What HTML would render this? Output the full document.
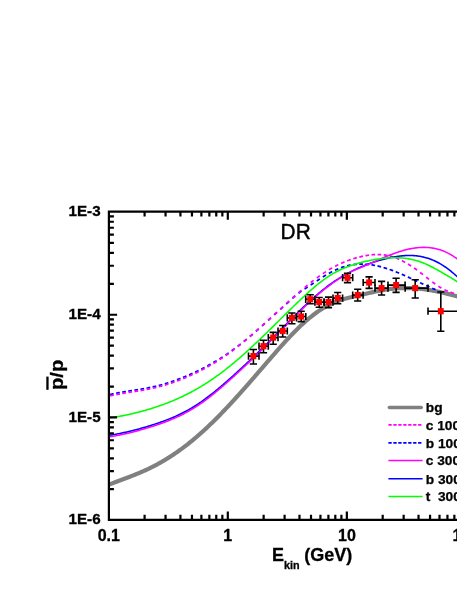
<!DOCTYPE html>
<html><head><meta charset="utf-8"><title>DR</title>
<style>html,body{margin:0;padding:0;background:#fff;}body{width:457px;height:591px;overflow:hidden}</style>
</head><body>
<svg width="457" height="591" viewBox="0 0 457 591" style="display:block;will-change:transform;opacity:0.999">
<rect width="457" height="591" fill="#fff"/>
<path d="M108.9,484.63 L109.9,484.24 L110.9,483.86 L111.9,483.47 L112.9,483.09 L113.9,482.71 L114.9,482.33 L115.9,481.96 L116.9,481.58 L117.9,481.21 L118.9,480.83 L119.9,480.46 L120.9,480.08 L121.9,479.71 L122.9,479.33 L123.9,478.96 L124.9,478.58 L125.9,478.21 L126.9,477.83 L127.9,477.45 L128.9,477.06 L129.9,476.68 L130.9,476.29 L131.9,475.90 L132.9,475.51 L133.9,475.11 L134.9,474.71 L135.9,474.31 L136.9,473.90 L137.9,473.49 L138.9,473.07 L139.9,472.65 L140.9,472.22 L141.9,471.79 L142.9,471.36 L143.9,470.91 L144.9,470.46 L145.9,470.01 L146.9,469.55 L147.9,469.08 L148.9,468.61 L149.9,468.12 L150.9,467.63 L151.9,467.14 L152.9,466.63 L153.9,466.12 L154.9,465.60 L155.9,465.07 L156.9,464.54 L157.9,463.99 L158.9,463.44 L159.9,462.89 L160.9,462.32 L161.9,461.75 L162.9,461.16 L163.9,460.58 L164.9,459.98 L165.9,459.37 L166.9,458.76 L167.9,458.14 L168.9,457.51 L169.9,456.88 L170.9,456.23 L171.9,455.58 L172.9,454.92 L173.9,454.25 L174.9,453.58 L175.9,452.89 L176.9,452.20 L177.9,451.50 L178.9,450.79 L179.9,450.08 L180.9,449.35 L181.9,448.62 L182.9,447.88 L183.9,447.13 L184.9,446.38 L185.9,445.61 L186.9,444.84 L187.9,444.06 L188.9,443.27 L189.9,442.47 L190.9,441.67 L191.9,440.85 L192.9,440.03 L193.9,439.20 L194.9,438.36 L195.9,437.51 L196.9,436.66 L197.9,435.79 L198.9,434.92 L199.9,434.04 L200.9,433.15 L201.9,432.25 L202.9,431.35 L203.9,430.44 L204.9,429.52 L205.9,428.60 L206.9,427.66 L207.9,426.72 L208.9,425.77 L209.9,424.82 L210.9,423.86 L211.9,422.89 L212.9,421.92 L213.9,420.93 L214.9,419.95 L215.9,418.95 L216.9,417.95 L217.9,416.95 L218.9,415.93 L219.9,414.91 L220.9,413.89 L221.9,412.86 L222.9,411.82 L223.9,410.78 L224.9,409.74 L225.9,408.68 L226.9,407.63 L227.9,406.56 L228.9,405.50 L229.9,404.42 L230.9,403.35 L231.9,402.26 L232.9,401.18 L233.9,400.08 L234.9,398.99 L235.9,397.89 L236.9,396.78 L237.9,395.68 L238.9,394.56 L239.9,393.45 L240.9,392.33 L241.9,391.21 L242.9,390.08 L243.9,388.95 L244.9,387.82 L245.9,386.68 L246.9,385.54 L247.9,384.40 L248.9,383.26 L249.9,382.12 L250.9,380.97 L251.9,379.82 L252.9,378.67 L253.9,377.52 L254.9,376.37 L255.9,375.21 L256.9,374.06 L257.9,372.90 L258.9,371.74 L259.9,370.59 L260.9,369.43 L261.9,368.27 L262.9,367.11 L263.9,365.95 L264.9,364.79 L265.9,363.64 L266.9,362.48 L267.9,361.32 L268.9,360.17 L269.9,359.01 L270.9,357.86 L271.9,356.70 L272.9,355.55 L273.9,354.41 L274.9,353.26 L275.9,352.12 L276.9,350.98 L277.9,349.84 L278.9,348.71 L279.9,347.58 L280.9,346.46 L281.9,345.34 L282.9,344.23 L283.9,343.13 L284.9,342.03 L285.9,340.93 L286.9,339.85 L287.9,338.77 L288.9,337.70 L289.9,336.64 L290.9,335.58 L291.9,334.54 L292.9,333.50 L293.9,332.48 L294.9,331.46 L295.9,330.45 L296.9,329.46 L297.9,328.48 L298.9,327.50 L299.9,326.54 L300.9,325.59 L301.9,324.66 L302.9,323.74 L303.9,322.83 L304.9,321.93 L305.9,321.04 L306.9,320.17 L307.9,319.32 L308.9,318.48 L309.9,317.65 L310.9,316.83 L311.9,316.03 L312.9,315.25 L313.9,314.48 L314.9,313.73 L315.9,312.99 L316.9,312.27 L317.9,311.56 L318.9,310.87 L319.9,310.19 L320.9,309.54 L321.9,308.89 L322.9,308.27 L323.9,307.66 L324.9,307.07 L325.9,306.50 L326.9,305.95 L327.9,305.41 L328.9,304.89 L329.9,304.40 L330.9,303.92 L331.9,303.45 L332.9,303.01 L333.9,302.58 L334.9,302.17 L335.9,301.77 L336.9,301.39 L337.9,301.02 L338.9,300.67 L339.9,300.33 L340.9,300.00 L341.9,299.68 L342.9,299.37 L343.9,299.07 L344.9,298.78 L345.9,298.50 L346.9,298.23 L347.9,297.97 L348.9,297.71 L349.9,297.46 L350.9,297.21 L351.9,296.97 L352.9,296.74 L353.9,296.50 L354.9,296.27 L355.9,296.04 L356.9,295.81 L357.9,295.58 L358.9,295.36 L359.9,295.13 L360.9,294.90 L361.9,294.67 L362.9,294.43 L363.9,294.20 L364.9,293.97 L365.9,293.74 L366.9,293.50 L367.9,293.27 L368.9,293.04 L369.9,292.81 L370.9,292.58 L371.9,292.36 L372.9,292.14 L373.9,291.92 L374.9,291.70 L375.9,291.49 L376.9,291.28 L377.9,291.07 L378.9,290.87 L379.9,290.67 L380.9,290.48 L381.9,290.29 L382.9,290.11 L383.9,289.94 L384.9,289.77 L385.9,289.61 L386.9,289.46 L387.9,289.31 L388.9,289.17 L389.9,289.04 L390.9,288.91 L391.9,288.80 L392.9,288.69 L393.9,288.59 L394.9,288.50 L395.9,288.42 L396.9,288.35 L397.9,288.28 L398.9,288.22 L399.9,288.17 L400.9,288.13 L401.9,288.10 L402.9,288.07 L403.9,288.05 L404.9,288.04 L405.9,288.04 L406.9,288.04 L407.9,288.06 L408.9,288.08 L409.9,288.10 L410.9,288.14 L411.9,288.18 L412.9,288.23 L413.9,288.28 L414.9,288.35 L415.9,288.42 L416.9,288.50 L417.9,288.58 L418.9,288.67 L419.9,288.77 L420.9,288.88 L421.9,288.99 L422.9,289.11 L423.9,289.24 L424.9,289.37 L425.9,289.51 L426.9,289.66 L427.9,289.81 L428.9,289.97 L429.9,290.13 L430.9,290.30 L431.9,290.47 L432.9,290.65 L433.9,290.84 L434.9,291.03 L435.9,291.22 L436.9,291.42 L437.9,291.63 L438.9,291.83 L439.9,292.05 L440.9,292.27 L441.9,292.49 L442.9,292.71 L443.9,292.94 L444.9,293.18 L445.9,293.41 L446.9,293.65 L447.9,293.90 L448.9,294.14 L449.9,294.39 L450.9,294.65 L451.9,294.91 L452.9,295.17 L453.9,295.44 L454.9,295.71 L455.9,295.98 L456.9,296.26 L457.9,296.54 L458.9,296.82 L459.9,297.11 L460.9,297.40" fill="none" stroke="#808080" stroke-width="4.2" stroke-linejoin="round"/>
<path d="M110.10,394.56 111.00,394.35 111.90,394.14 112.80,393.94 113.70,393.74M116.18,393.23 117.09,393.05 117.99,392.88 118.90,392.71 119.81,392.54M122.25,392.11 123.17,391.95 124.08,391.80 124.99,391.65 125.90,391.50M128.33,391.12 129.25,390.98 130.16,390.83 131.07,390.69 131.99,390.55M134.41,390.18 135.32,390.04 136.24,389.90 137.15,389.76 138.06,389.61M140.48,389.22 141.40,389.07 142.31,388.92 143.22,388.76 144.13,388.60M146.56,388.16 147.47,387.99 148.38,387.81 149.29,387.63 150.20,387.44M152.64,386.92 153.54,386.71 154.44,386.51 155.34,386.29 156.25,386.08M158.72,385.46 159.61,385.22 160.50,384.98 161.40,384.74 162.29,384.49M164.79,383.77 165.68,383.51 166.56,383.24 167.45,382.97 168.34,382.69M170.87,381.87 171.75,381.57 172.62,381.27 173.50,380.97 174.37,380.66M176.95,379.74 177.81,379.41 178.68,379.09 179.55,378.76 180.41,378.42M183.02,377.39 183.88,377.04 184.74,376.69 185.59,376.34 186.45,375.98M189.10,374.86 189.95,374.49 190.80,374.12 191.64,373.74 192.49,373.36M195.18,372.12 196.01,371.73 196.85,371.33 197.69,370.93 198.52,370.52M201.25,369.17 202.08,368.75 202.90,368.33 203.72,367.90 204.55,367.47M207.33,365.97 208.14,365.53 208.95,365.08 209.76,364.63 210.57,364.17M213.41,362.54 214.21,362.07 215.00,361.60 215.80,361.13 216.60,360.65M219.49,358.88 220.27,358.39 221.05,357.90 221.84,357.40 222.62,356.90M225.56,354.97 226.33,354.45 227.10,353.94 227.86,353.41 228.63,352.89M231.64,350.78 232.39,350.24 233.14,349.70 233.89,349.15 234.64,348.60M237.72,346.29 238.45,345.73 239.18,345.16 239.92,344.60 240.65,344.02M243.79,341.52 244.51,340.94 245.23,340.35 245.95,339.77 246.66,339.17M249.87,336.50 250.58,335.91 251.28,335.31 251.99,334.71 252.69,334.10M255.95,331.29 256.64,330.68 257.34,330.07 258.03,329.46 258.73,328.85M262.02,325.92 262.71,325.30 263.40,324.68 264.09,324.06 264.78,323.44M268.10,320.45 268.79,319.83 269.47,319.21 270.16,318.58 270.84,317.96M274.18,314.94 274.86,314.32 275.55,313.70 276.24,313.08 276.92,312.45M280.26,309.44 280.94,308.83 281.63,308.21 282.32,307.59 283.01,306.97M286.33,303.98 287.02,303.36 287.70,302.74 288.38,302.11 289.07,301.48M292.41,298.37 293.09,297.74 293.78,297.11 294.46,296.50 295.15,295.90M298.49,293.23 299.24,292.68 300.00,292.15 300.75,291.64 301.51,291.14M304.56,289.14 305.34,288.63 306.11,288.13 306.88,287.61 307.66,287.10M310.64,285.08 311.40,284.55 312.17,284.03 312.93,283.51 313.69,282.98M316.72,280.93 317.49,280.42 318.26,279.90 319.03,279.40 319.80,278.89M322.79,276.98 323.58,276.49 324.37,276.01 325.16,275.53 325.95,275.06M328.87,273.38 329.68,272.93 330.50,272.49 331.31,272.06 332.12,271.64M334.95,270.25 335.79,269.86 336.63,269.48 337.48,269.11 338.32,268.76M341.03,267.70 341.90,267.38 342.77,267.08 343.65,266.80 344.52,266.53M347.10,265.82 348.00,265.60 348.91,265.39 349.81,265.21 350.71,265.04M353.18,264.64 354.10,264.52 355.02,264.42 355.94,264.33 356.85,264.26M359.26,264.13 360.18,264.11 361.11,264.10 362.03,264.10 362.96,264.11M365.33,264.21 366.26,264.28 367.18,264.35 368.10,264.44 369.02,264.53M371.41,264.84 372.32,264.98 373.24,265.13 374.15,265.29 375.07,265.46M377.49,265.97 378.39,266.17 379.29,266.39 380.19,266.61 381.09,266.84M383.56,267.53 384.45,267.79 385.34,268.05 386.22,268.33 387.11,268.61M389.64,269.47 390.51,269.78 391.38,270.09 392.25,270.41 393.12,270.74M395.72,271.76 396.58,272.10 397.43,272.45 398.29,272.81 399.15,273.17M401.80,274.30 402.64,274.67 403.49,275.05 404.34,275.42 405.18,275.80M407.87,277.02 408.71,277.41 409.55,277.80 410.39,278.19 411.23,278.58M413.95,279.84 414.79,280.24 415.63,280.63 416.46,281.02 417.30,281.41M420.03,282.69 420.86,283.08 421.70,283.48 422.54,283.87 423.38,284.26M426.10,285.52 426.95,285.90 427.79,286.28 428.63,286.66 429.47,287.03M432.18,288.21 433.03,288.58 433.89,288.93 434.74,289.29 435.59,289.63" fill="none" stroke="#0000ff" stroke-width="1.75" stroke-linejoin="round"/>
<path d="M110.20,395.88 111.10,395.67 112.00,395.46 112.90,395.26 113.80,395.07M116.28,394.56 117.19,394.38 118.09,394.20 119.00,394.03 119.91,393.86M122.35,393.43 123.27,393.28 124.18,393.13 125.09,392.97 126.00,392.83M128.43,392.44 129.34,392.30 130.26,392.16 131.17,392.01 132.09,391.87M134.51,391.50 135.42,391.36 136.34,391.21 137.25,391.07 138.16,390.93M140.59,390.53 141.50,390.38 142.41,390.23 143.32,390.07 144.23,389.91M146.66,389.46 147.57,389.29 148.48,389.11 149.39,388.93 150.29,388.74M152.74,388.22 153.64,388.01 154.54,387.80 155.44,387.59 156.35,387.37M158.82,386.75 159.71,386.51 160.60,386.27 161.50,386.03 162.39,385.78M164.89,385.06 165.78,384.79 166.66,384.52 167.55,384.25 168.43,383.97M170.97,383.14 171.85,382.85 172.72,382.55 173.60,382.24 174.47,381.94M177.05,381.00 177.91,380.68 178.78,380.35 179.64,380.02 180.51,379.68M183.12,378.64 183.98,378.29 184.83,377.94 185.69,377.58 186.54,377.21M189.20,376.05 190.04,375.68 190.89,375.29 191.73,374.91 192.57,374.52M195.28,373.24 196.11,372.84 196.94,372.43 197.77,372.02 198.60,371.60M201.36,370.20 202.17,369.77 202.99,369.34 203.81,368.90 204.63,368.46M207.43,366.92 208.24,366.47 209.04,366.01 209.85,365.55 210.65,365.08M213.51,363.39 214.30,362.91 215.09,362.43 215.88,361.95 216.67,361.45M219.59,359.60 220.36,359.10 221.14,358.59 221.91,358.08 222.68,357.57M225.66,355.54 226.42,355.02 227.18,354.49 227.94,353.95 228.70,353.41M231.74,351.20 232.48,350.65 233.22,350.10 233.96,349.54 234.71,348.98M237.82,346.57 238.54,346.00 239.27,345.42 239.99,344.84 240.71,344.26M243.89,341.66 244.60,341.07 245.31,340.48 246.02,339.88 246.74,339.28M249.97,336.52 250.67,335.92 251.37,335.31 252.07,334.70 252.77,334.09M256.05,331.20 256.74,330.58 257.43,329.97 258.12,329.35 258.81,328.73M262.12,325.74 262.81,325.12 263.49,324.50 264.18,323.88 264.86,323.25M268.20,320.20 268.88,319.57 269.57,318.95 270.25,318.32 270.93,317.70M274.28,314.62 274.96,313.99 275.64,313.36 276.32,312.74 277.00,312.11M280.36,309.04 281.04,308.41 281.72,307.79 282.40,307.16 283.09,306.54M286.43,303.50 287.12,302.88 287.81,302.26 288.49,301.64 289.18,301.02M292.51,298.05 293.20,297.44 293.90,296.82 294.59,296.21 295.28,295.60M298.59,292.72 299.29,292.12 299.99,291.51 300.69,290.91 301.39,290.32M304.66,287.56 305.38,286.97 306.09,286.38 306.80,285.79 307.52,285.21M310.74,282.62 311.47,282.05 312.20,281.48 312.93,280.91 313.65,280.35M316.82,277.97 317.57,277.42 318.31,276.87 319.06,276.33 319.81,275.80M322.89,273.66 323.67,273.14 324.44,272.63 325.21,272.13 325.98,271.63M328.97,269.77 329.77,269.29 330.56,268.82 331.36,268.36 332.16,267.91M335.05,266.34 335.87,265.91 336.70,265.49 337.52,265.08 338.34,264.68M341.13,263.37 341.97,263.00 342.82,262.63 343.67,262.27 344.51,261.92M347.20,260.85 348.07,260.53 348.94,260.21 349.81,259.90 350.67,259.60M353.28,258.75 354.17,258.47 355.05,258.21 355.94,257.95 356.82,257.70M359.36,257.03 360.26,256.81 361.16,256.60 362.05,256.39 362.95,256.20M365.43,255.71 366.35,255.54 367.26,255.39 368.17,255.25 369.08,255.12M371.51,254.83 372.43,254.75 373.35,254.67 374.28,254.61 375.20,254.57M377.59,254.52 378.51,254.53 379.44,254.55 380.36,254.59 381.29,254.65M383.66,254.87 384.58,254.98 385.50,255.12 386.41,255.27 387.33,255.44M389.74,255.97 390.63,256.21 391.53,256.46 392.42,256.73 393.31,257.02M395.82,257.91 396.68,258.25 397.53,258.61 398.39,258.98 399.25,259.36M401.90,260.63 402.72,261.05 403.54,261.48 404.36,261.92 405.18,262.38M407.97,264.01 408.76,264.50 409.54,264.99 410.33,265.49 411.12,265.99M414.05,267.97 414.81,268.50 415.56,269.03 416.32,269.57 417.07,270.12M420.13,272.40 420.86,272.96 421.59,273.52 422.33,274.09 423.06,274.66M426.20,277.14 426.93,277.71 427.66,278.29 428.38,278.86 429.11,279.42M432.28,281.86 433.02,282.42 433.77,282.97 434.51,283.51 435.25,284.05M438.36,286.18 439.14,286.69 439.92,287.18 440.70,287.66 441.48,288.12M444.44,289.71 445.27,290.12 446.11,290.50 446.95,290.86 447.79,291.20M450.51,292.19 451.39,292.48 452.27,292.76 453.16,293.02 454.04,293.28" fill="none" stroke="#ff00ff" stroke-width="1.75" stroke-linejoin="round"/>
<path d="M108.9,435.42 L109.9,435.26 L110.9,435.10 L111.9,434.93 L112.9,434.76 L113.9,434.59 L114.9,434.41 L115.9,434.22 L116.9,434.03 L117.9,433.84 L118.9,433.65 L119.9,433.45 L120.9,433.24 L121.9,433.03 L122.9,432.82 L123.9,432.60 L124.9,432.38 L125.9,432.16 L126.9,431.93 L127.9,431.70 L128.9,431.47 L129.9,431.23 L130.9,430.98 L131.9,430.74 L132.9,430.49 L133.9,430.23 L134.9,429.98 L135.9,429.72 L136.9,429.45 L137.9,429.18 L138.9,428.91 L139.9,428.64 L140.9,428.36 L141.9,428.08 L142.9,427.80 L143.9,427.51 L144.9,427.22 L145.9,426.92 L146.9,426.63 L147.9,426.32 L148.9,426.02 L149.9,425.71 L150.9,425.40 L151.9,425.09 L152.9,424.78 L153.9,424.46 L154.9,424.13 L155.9,423.80 L156.9,423.47 L157.9,423.14 L158.9,422.80 L159.9,422.45 L160.9,422.10 L161.9,421.75 L162.9,421.39 L163.9,421.02 L164.9,420.65 L165.9,420.27 L166.9,419.89 L167.9,419.50 L168.9,419.11 L169.9,418.70 L170.9,418.30 L171.9,417.88 L172.9,417.46 L173.9,417.03 L174.9,416.59 L175.9,416.15 L176.9,415.70 L177.9,415.24 L178.9,414.77 L179.9,414.29 L180.9,413.81 L181.9,413.31 L182.9,412.81 L183.9,412.30 L184.9,411.78 L185.9,411.25 L186.9,410.71 L187.9,410.16 L188.9,409.60 L189.9,409.03 L190.9,408.45 L191.9,407.86 L192.9,407.26 L193.9,406.65 L194.9,406.02 L195.9,405.39 L196.9,404.74 L197.9,404.09 L198.9,403.42 L199.9,402.74 L200.9,402.06 L201.9,401.36 L202.9,400.65 L203.9,399.94 L204.9,399.21 L205.9,398.48 L206.9,397.73 L207.9,396.98 L208.9,396.22 L209.9,395.45 L210.9,394.67 L211.9,393.89 L212.9,393.09 L213.9,392.29 L214.9,391.49 L215.9,390.67 L216.9,389.85 L217.9,389.02 L218.9,388.19 L219.9,387.35 L220.9,386.50 L221.9,385.65 L222.9,384.79 L223.9,383.93 L224.9,383.06 L225.9,382.19 L226.9,381.31 L227.9,380.43 L228.9,379.55 L229.9,378.66 L230.9,377.77 L231.9,376.87 L232.9,375.97 L233.9,375.07 L234.9,374.16 L235.9,373.25 L236.9,372.34 L237.9,371.43 L238.9,370.51 L239.9,369.59 L240.9,368.67 L241.9,367.74 L242.9,366.81 L243.9,365.88 L244.9,364.95 L245.9,364.02 L246.9,363.08 L247.9,362.14 L248.9,361.19 L249.9,360.25 L250.9,359.30 L251.9,358.34 L252.9,357.39 L253.9,356.43 L254.9,355.47 L255.9,354.51 L256.9,353.54 L257.9,352.58 L258.9,351.60 L259.9,350.63 L260.9,349.65 L261.9,348.68 L262.9,347.69 L263.9,346.71 L264.9,345.72 L265.9,344.73 L266.9,343.74 L267.9,342.74 L268.9,341.74 L269.9,340.74 L270.9,339.74 L271.9,338.73 L272.9,337.72 L273.9,336.71 L274.9,335.70 L275.9,334.68 L276.9,333.66 L277.9,332.65 L278.9,331.63 L279.9,330.61 L280.9,329.59 L281.9,328.57 L282.9,327.56 L283.9,326.54 L284.9,325.52 L285.9,324.50 L286.9,323.49 L287.9,322.48 L288.9,321.46 L289.9,320.45 L290.9,319.45 L291.9,318.44 L292.9,317.44 L293.9,316.44 L294.9,315.44 L295.9,314.45 L296.9,313.46 L297.9,312.48 L298.9,311.50 L299.9,310.52 L300.9,309.55 L301.9,308.58 L302.9,307.62 L303.9,306.67 L304.9,305.72 L305.9,304.77 L306.9,303.84 L307.9,302.91 L308.9,301.98 L309.9,301.06 L310.9,300.15 L311.9,299.25 L312.9,298.35 L313.9,297.47 L314.9,296.59 L315.9,295.71 L316.9,294.85 L317.9,294.00 L318.9,293.15 L319.9,292.31 L320.9,291.49 L321.9,290.67 L322.9,289.86 L323.9,289.06 L324.9,288.28 L325.9,287.50 L326.9,286.73 L327.9,285.98 L328.9,285.23 L329.9,284.50 L330.9,283.78 L331.9,283.07 L332.9,282.37 L333.9,281.68 L334.9,281.01 L335.9,280.34 L336.9,279.69 L337.9,279.05 L338.9,278.42 L339.9,277.79 L340.9,277.18 L341.9,276.58 L342.9,275.99 L343.9,275.41 L344.9,274.84 L345.9,274.28 L346.9,273.73 L347.9,273.19 L348.9,272.65 L349.9,272.13 L350.9,271.62 L351.9,271.11 L352.9,270.62 L353.9,270.13 L354.9,269.65 L355.9,269.18 L356.9,268.72 L357.9,268.27 L358.9,267.82 L359.9,267.38 L360.9,266.96 L361.9,266.53 L362.9,266.12 L363.9,265.72 L364.9,265.32 L365.9,264.93 L366.9,264.55 L367.9,264.17 L368.9,263.80 L369.9,263.44 L370.9,263.09 L371.9,262.75 L372.9,262.41 L373.9,262.08 L374.9,261.76 L375.9,261.44 L376.9,261.14 L377.9,260.84 L378.9,260.55 L379.9,260.26 L380.9,259.98 L381.9,259.71 L382.9,259.45 L383.9,259.19 L384.9,258.94 L385.9,258.70 L386.9,258.47 L387.9,258.24 L388.9,258.02 L389.9,257.80 L390.9,257.59 L391.9,257.40 L392.9,257.20 L393.9,257.02 L394.9,256.84 L395.9,256.68 L396.9,256.52 L397.9,256.37 L398.9,256.23 L399.9,256.10 L400.9,255.99 L401.9,255.88 L402.9,255.79 L403.9,255.70 L404.9,255.63 L405.9,255.58 L406.9,255.53 L407.9,255.50 L408.9,255.48 L409.9,255.48 L410.9,255.49 L411.9,255.52 L412.9,255.56 L413.9,255.62 L414.9,255.69 L415.9,255.78 L416.9,255.88 L417.9,256.01 L418.9,256.15 L419.9,256.31 L420.9,256.49 L421.9,256.68 L422.9,256.90 L423.9,257.13 L424.9,257.39 L425.9,257.66 L426.9,257.95 L427.9,258.26 L428.9,258.59 L429.9,258.94 L430.9,259.32 L431.9,259.71 L432.9,260.12 L433.9,260.55 L434.9,261.01 L435.9,261.48 L436.9,261.98 L437.9,262.50 L438.9,263.04 L439.9,263.60 L440.9,264.18 L441.9,264.79 L442.9,265.42 L443.9,266.07 L444.9,266.74 L445.9,267.44 L446.9,268.15 L447.9,268.89 L448.9,269.65 L449.9,270.43 L450.9,271.23 L451.9,272.05 L452.9,272.88 L453.9,273.74 L454.9,274.60 L455.9,275.48 L456.9,276.38 L457.9,277.28 L458.9,278.20 L459.9,279.14 L460.9,280.08" fill="none" stroke="#0000ff" stroke-width="1.55" stroke-linejoin="round"/>
<path d="M108.9,436.92 L109.9,436.76 L110.9,436.60 L111.9,436.43 L112.9,436.26 L113.9,436.08 L114.9,435.90 L115.9,435.71 L116.9,435.53 L117.9,435.33 L118.9,435.14 L119.9,434.93 L120.9,434.73 L121.9,434.52 L122.9,434.31 L123.9,434.09 L124.9,433.87 L125.9,433.64 L126.9,433.41 L127.9,433.18 L128.9,432.94 L129.9,432.70 L130.9,432.46 L131.9,432.21 L132.9,431.96 L133.9,431.71 L134.9,431.45 L135.9,431.19 L136.9,430.92 L137.9,430.65 L138.9,430.38 L139.9,430.10 L140.9,429.83 L141.9,429.54 L142.9,429.26 L143.9,428.97 L144.9,428.68 L145.9,428.38 L146.9,428.08 L147.9,427.78 L148.9,427.48 L149.9,427.17 L150.9,426.86 L151.9,426.54 L152.9,426.23 L153.9,425.91 L154.9,425.58 L155.9,425.25 L156.9,424.92 L157.9,424.58 L158.9,424.24 L159.9,423.90 L160.9,423.54 L161.9,423.19 L162.9,422.83 L163.9,422.46 L164.9,422.09 L165.9,421.71 L166.9,421.33 L167.9,420.94 L168.9,420.54 L169.9,420.14 L170.9,419.73 L171.9,419.31 L172.9,418.89 L173.9,418.46 L174.9,418.02 L175.9,417.57 L176.9,417.12 L177.9,416.66 L178.9,416.19 L179.9,415.71 L180.9,415.23 L181.9,414.73 L182.9,414.23 L183.9,413.72 L184.9,413.19 L185.9,412.66 L186.9,412.12 L187.9,411.57 L188.9,411.01 L189.9,410.44 L190.9,409.86 L191.9,409.27 L192.9,408.67 L193.9,408.05 L194.9,407.43 L195.9,406.79 L196.9,406.14 L197.9,405.49 L198.9,404.82 L199.9,404.14 L200.9,403.45 L201.9,402.75 L202.9,402.03 L203.9,401.31 L204.9,400.58 L205.9,399.84 L206.9,399.10 L207.9,398.34 L208.9,397.57 L209.9,396.80 L210.9,396.02 L211.9,395.23 L212.9,394.43 L213.9,393.62 L214.9,392.81 L215.9,391.99 L216.9,391.17 L217.9,390.33 L218.9,389.49 L219.9,388.65 L220.9,387.80 L221.9,386.94 L222.9,386.08 L223.9,385.21 L224.9,384.34 L225.9,383.46 L226.9,382.58 L227.9,381.69 L228.9,380.80 L229.9,379.91 L230.9,379.01 L231.9,378.11 L232.9,377.20 L233.9,376.30 L234.9,375.38 L235.9,374.47 L236.9,373.55 L237.9,372.64 L238.9,371.71 L239.9,370.79 L240.9,369.86 L241.9,368.93 L242.9,368.00 L243.9,367.06 L244.9,366.13 L245.9,365.19 L246.9,364.24 L247.9,363.30 L248.9,362.35 L249.9,361.40 L250.9,360.44 L251.9,359.49 L252.9,358.53 L253.9,357.56 L254.9,356.60 L255.9,355.63 L256.9,354.66 L257.9,353.68 L258.9,352.71 L259.9,351.73 L260.9,350.74 L261.9,349.76 L262.9,348.77 L263.9,347.78 L264.9,346.78 L265.9,345.78 L266.9,344.78 L267.9,343.78 L268.9,342.77 L269.9,341.76 L270.9,340.75 L271.9,339.73 L272.9,338.72 L273.9,337.70 L274.9,336.68 L275.9,335.65 L276.9,334.63 L277.9,333.60 L278.9,332.58 L279.9,331.55 L280.9,330.53 L281.9,329.50 L282.9,328.47 L283.9,327.45 L284.9,326.42 L285.9,325.40 L286.9,324.37 L287.9,323.35 L288.9,322.33 L289.9,321.31 L290.9,320.30 L291.9,319.29 L292.9,318.28 L293.9,317.27 L294.9,316.26 L295.9,315.26 L296.9,314.27 L297.9,313.27 L298.9,312.29 L299.9,311.30 L300.9,310.32 L301.9,309.35 L302.9,308.38 L303.9,307.42 L304.9,306.46 L305.9,305.51 L306.9,304.56 L307.9,303.63 L308.9,302.69 L309.9,301.77 L310.9,300.85 L311.9,299.94 L312.9,299.04 L313.9,298.15 L314.9,297.26 L315.9,296.38 L316.9,295.51 L317.9,294.65 L318.9,293.80 L319.9,292.96 L320.9,292.12 L321.9,291.30 L322.9,290.49 L323.9,289.68 L324.9,288.89 L325.9,288.11 L326.9,287.34 L327.9,286.57 L328.9,285.82 L329.9,285.09 L330.9,284.36 L331.9,283.64 L332.9,282.94 L333.9,282.24 L334.9,281.56 L335.9,280.89 L336.9,280.22 L337.9,279.56 L338.9,278.91 L339.9,278.27 L340.9,277.63 L341.9,277.00 L342.9,276.37 L343.9,275.75 L344.9,275.14 L345.9,274.54 L346.9,273.96 L347.9,273.39 L348.9,272.85 L349.9,272.32 L350.9,271.81 L351.9,271.33 L352.9,270.86 L353.9,270.42 L354.9,269.98 L355.9,269.56 L356.9,269.14 L357.9,268.73 L358.9,268.32 L359.9,267.92 L360.9,267.51 L361.9,267.09 L362.9,266.68 L363.9,266.25 L364.9,265.83 L365.9,265.40 L366.9,264.97 L367.9,264.53 L368.9,264.09 L369.9,263.65 L370.9,263.20 L371.9,262.76 L372.9,262.31 L373.9,261.87 L374.9,261.42 L375.9,260.98 L376.9,260.53 L377.9,260.09 L378.9,259.65 L379.9,259.22 L380.9,258.78 L381.9,258.35 L382.9,257.93 L383.9,257.50 L384.9,257.09 L385.9,256.67 L386.9,256.26 L387.9,255.86 L388.9,255.46 L389.9,255.07 L390.9,254.68 L391.9,254.30 L392.9,253.92 L393.9,253.55 L394.9,253.19 L395.9,252.84 L396.9,252.49 L397.9,252.15 L398.9,251.83 L399.9,251.51 L400.9,251.19 L401.9,250.89 L402.9,250.60 L403.9,250.32 L404.9,250.05 L405.9,249.79 L406.9,249.55 L407.9,249.31 L408.9,249.08 L409.9,248.87 L410.9,248.67 L411.9,248.49 L412.9,248.31 L413.9,248.15 L414.9,248.01 L415.9,247.87 L416.9,247.76 L417.9,247.65 L418.9,247.56 L419.9,247.49 L420.9,247.44 L421.9,247.40 L422.9,247.37 L423.9,247.37 L424.9,247.38 L425.9,247.41 L426.9,247.45 L427.9,247.52 L428.9,247.60 L429.9,247.70 L430.9,247.82 L431.9,247.96 L432.9,248.11 L433.9,248.29 L434.9,248.49 L435.9,248.71 L436.9,248.94 L437.9,249.20 L438.9,249.49 L439.9,249.79 L440.9,250.11 L441.9,250.46 L442.9,250.83 L443.9,251.23 L444.9,251.65 L445.9,252.10 L446.9,252.57 L447.9,253.07 L448.9,253.59 L449.9,254.14 L450.9,254.71 L451.9,255.31 L452.9,255.94 L453.9,256.59 L454.9,257.27 L455.9,257.99 L456.9,258.73 L457.9,259.49 L458.9,260.29 L459.9,261.11 L460.9,261.97" fill="none" stroke="#ff00ff" stroke-width="1.55" stroke-linejoin="round"/>
<path d="M108.9,417.77 L109.9,417.66 L110.9,417.54 L111.9,417.42 L112.9,417.29 L113.9,417.15 L114.9,417.01 L115.9,416.87 L116.9,416.71 L117.9,416.56 L118.9,416.39 L119.9,416.23 L120.9,416.05 L121.9,415.87 L122.9,415.69 L123.9,415.50 L124.9,415.31 L125.9,415.11 L126.9,414.91 L127.9,414.70 L128.9,414.48 L129.9,414.27 L130.9,414.04 L131.9,413.82 L132.9,413.58 L133.9,413.35 L134.9,413.10 L135.9,412.86 L136.9,412.61 L137.9,412.35 L138.9,412.09 L139.9,411.83 L140.9,411.56 L141.9,411.29 L142.9,411.01 L143.9,410.73 L144.9,410.44 L145.9,410.15 L146.9,409.86 L147.9,409.56 L148.9,409.26 L149.9,408.96 L150.9,408.65 L151.9,408.34 L152.9,408.02 L153.9,407.70 L154.9,407.37 L155.9,407.04 L156.9,406.71 L157.9,406.37 L158.9,406.03 L159.9,405.68 L160.9,405.33 L161.9,404.97 L162.9,404.61 L163.9,404.24 L164.9,403.87 L165.9,403.50 L166.9,403.12 L167.9,402.73 L168.9,402.34 L169.9,401.94 L170.9,401.54 L171.9,401.13 L172.9,400.72 L173.9,400.30 L174.9,399.87 L175.9,399.44 L176.9,399.01 L177.9,398.56 L178.9,398.11 L179.9,397.66 L180.9,397.20 L181.9,396.73 L182.9,396.26 L183.9,395.78 L184.9,395.29 L185.9,394.80 L186.9,394.30 L187.9,393.79 L188.9,393.28 L189.9,392.76 L190.9,392.23 L191.9,391.70 L192.9,391.16 L193.9,390.61 L194.9,390.05 L195.9,389.49 L196.9,388.92 L197.9,388.34 L198.9,387.75 L199.9,387.16 L200.9,386.56 L201.9,385.96 L202.9,385.34 L203.9,384.72 L204.9,384.09 L205.9,383.45 L206.9,382.81 L207.9,382.16 L208.9,381.50 L209.9,380.84 L210.9,380.17 L211.9,379.49 L212.9,378.80 L213.9,378.11 L214.9,377.41 L215.9,376.70 L216.9,375.99 L217.9,375.27 L218.9,374.54 L219.9,373.80 L220.9,373.06 L221.9,372.31 L222.9,371.56 L223.9,370.80 L224.9,370.03 L225.9,369.25 L226.9,368.47 L227.9,367.68 L228.9,366.88 L229.9,366.08 L230.9,365.27 L231.9,364.45 L232.9,363.63 L233.9,362.80 L234.9,361.96 L235.9,361.12 L236.9,360.27 L237.9,359.41 L238.9,358.55 L239.9,357.68 L240.9,356.81 L241.9,355.93 L242.9,355.04 L243.9,354.15 L244.9,353.26 L245.9,352.35 L246.9,351.45 L247.9,350.54 L248.9,349.62 L249.9,348.70 L250.9,347.77 L251.9,346.84 L252.9,345.91 L253.9,344.97 L254.9,344.03 L255.9,343.09 L256.9,342.14 L257.9,341.19 L258.9,340.23 L259.9,339.28 L260.9,338.32 L261.9,337.35 L262.9,336.39 L263.9,335.42 L264.9,334.45 L265.9,333.48 L266.9,332.50 L267.9,331.52 L268.9,330.55 L269.9,329.57 L270.9,328.59 L271.9,327.60 L272.9,326.62 L273.9,325.64 L274.9,324.65 L275.9,323.67 L276.9,322.68 L277.9,321.69 L278.9,320.71 L279.9,319.72 L280.9,318.73 L281.9,317.75 L282.9,316.76 L283.9,315.78 L284.9,314.80 L285.9,313.81 L286.9,312.83 L287.9,311.85 L288.9,310.87 L289.9,309.90 L290.9,308.92 L291.9,307.95 L292.9,306.98 L293.9,306.01 L294.9,305.05 L295.9,304.08 L296.9,303.12 L297.9,302.17 L298.9,301.21 L299.9,300.26 L300.9,299.31 L301.9,298.37 L302.9,297.43 L303.9,296.50 L304.9,295.57 L305.9,294.64 L306.9,293.73 L307.9,292.82 L308.9,291.91 L309.9,291.02 L310.9,290.13 L311.9,289.25 L312.9,288.38 L313.9,287.52 L314.9,286.68 L315.9,285.84 L316.9,285.01 L317.9,284.19 L318.9,283.39 L319.9,282.60 L320.9,281.82 L321.9,281.05 L322.9,280.30 L323.9,279.57 L324.9,278.85 L325.9,278.14 L326.9,277.45 L327.9,276.77 L328.9,276.12 L329.9,275.48 L330.9,274.86 L331.9,274.25 L332.9,273.66 L333.9,273.09 L334.9,272.54 L335.9,272.00 L336.9,271.48 L337.9,270.97 L338.9,270.48 L339.9,270.00 L340.9,269.54 L341.9,269.08 L342.9,268.65 L343.9,268.22 L344.9,267.81 L345.9,267.41 L346.9,267.02 L347.9,266.64 L348.9,266.28 L349.9,265.92 L350.9,265.58 L351.9,265.24 L352.9,264.91 L353.9,264.59 L354.9,264.28 L355.9,263.98 L356.9,263.69 L357.9,263.40 L358.9,263.12 L359.9,262.85 L360.9,262.59 L361.9,262.33 L362.9,262.07 L363.9,261.82 L364.9,261.58 L365.9,261.35 L366.9,261.12 L367.9,260.90 L368.9,260.69 L369.9,260.48 L370.9,260.28 L371.9,260.09 L372.9,259.90 L373.9,259.72 L374.9,259.55 L375.9,259.38 L376.9,259.23 L377.9,259.08 L378.9,258.94 L379.9,258.80 L380.9,258.67 L381.9,258.56 L382.9,258.45 L383.9,258.34 L384.9,258.25 L385.9,258.16 L386.9,258.08 L387.9,258.01 L388.9,257.95 L389.9,257.90 L390.9,257.85 L391.9,257.82 L392.9,257.79 L393.9,257.77 L394.9,257.77 L395.9,257.77 L396.9,257.78 L397.9,257.81 L398.9,257.84 L399.9,257.89 L400.9,257.95 L401.9,258.02 L402.9,258.10 L403.9,258.19 L404.9,258.30 L405.9,258.42 L406.9,258.56 L407.9,258.71 L408.9,258.87 L409.9,259.05 L410.9,259.24 L411.9,259.45 L412.9,259.67 L413.9,259.91 L414.9,260.17 L415.9,260.44 L416.9,260.73 L417.9,261.03 L418.9,261.36 L419.9,261.70 L420.9,262.06 L421.9,262.43 L422.9,262.83 L423.9,263.24 L424.9,263.66 L425.9,264.10 L426.9,264.55 L427.9,265.02 L428.9,265.50 L429.9,265.99 L430.9,266.49 L431.9,267.00 L432.9,267.52 L433.9,268.05 L434.9,268.59 L435.9,269.13 L436.9,269.68 L437.9,270.24 L438.9,270.80 L439.9,271.37 L440.9,271.94 L441.9,272.51 L442.9,273.08 L443.9,273.66 L444.9,274.24 L445.9,274.81 L446.9,275.39 L447.9,275.97 L448.9,276.56 L449.9,277.15 L450.9,277.75 L451.9,278.35 L452.9,278.97 L453.9,279.60 L454.9,280.25 L455.9,280.91 L456.9,281.59 L457.9,282.28 L458.9,283.00 L459.9,283.74 L460.9,284.50" fill="none" stroke="#00ff00" stroke-width="1.55" stroke-linejoin="round"/>
<g stroke="#000" stroke-width="1.6" fill="none">
<path d="M248.5,356.1H259M253.4,349.5V364M248.5,352.5V359.7M259,352.5V359.7M249.8,349.5H257.0M249.8,364H257.0"/>
<path d="M259,346.2H268.3M263.5,340.3V352.8M259,342.6V349.8M268.3,342.6V349.8M259.9,340.3H267.1M259.9,352.8H267.1"/>
<path d="M268.3,337.6H278M273.2,332.4V344.2M268.3,334.0V341.2M278,334.0V341.2M269.6,332.4H276.8M269.6,344.2H276.8"/>
<path d="M278,331.0H287.3M282.7,325.5V337M278,327.4V334.6M287.3,327.4V334.6M279.1,325.5H286.3M279.1,337H286.3"/>
<path d="M287.3,317.9H296.5M291.9,313V323.8M287.3,314.3V321.5M296.5,314.3V321.5M288.3,313H295.5M288.3,323.8H295.5"/>
<path d="M296.5,316.5H305.8M301.2,311.3V321.6M296.5,312.9V320.1M305.8,312.9V320.1M297.6,311.3H304.8M297.6,321.6H304.8"/>
<path d="M305.7,299.3H314.9M310.2,294.8V303.7M305.7,295.7V302.9M314.9,295.7V302.9M306.6,294.8H313.8M306.6,303.7H313.8"/>
<path d="M314.9,302.1H324.1M319.2,297.5V307.2M314.9,298.5V305.7M324.1,298.5V305.7M315.6,297.5H322.8M315.6,307.2H322.8"/>
<path d="M324.1,302.1H333M328.5,297.1V307.6M324.1,298.5V305.7M333,298.5V305.7M324.9,297.1H332.1M324.9,307.6H332.1"/>
<path d="M333,298.1H342.6M337.7,292.5V303.7M333,294.5V301.7M342.6,294.5V301.7M334.1,292.5H341.3M334.1,303.7H341.3"/>
<path d="M342.6,277.7H352.7M347.5,273.4V282.6M342.6,274.1V281.3M352.7,274.1V281.3M343.9,273.4H351.1M343.9,282.6H351.1"/>
<path d="M352.7,295.1H363.1M357.7,289.3V301M352.7,291.5V298.7M363.1,291.5V298.7M354.1,289.3H361.3M354.1,301H361.3"/>
<path d="M363.2,282.5H375M369.1,276.9V288.4M363.2,278.9V286.1M375,278.9V286.1M365.5,276.9H372.7M365.5,288.4H372.7"/>
<path d="M375,288.1H388M381.6,281.4V295M375,284.5V291.7M388,284.5V291.7M378.0,281.4H385.2M378.0,295H385.2"/>
<path d="M388,285.1H405.1M396.1,278.3V292.4M388,281.5V288.7M405.1,281.5V288.7M392.5,278.3H399.7M392.5,292.4H399.7"/>
<path d="M405.2,288.1H428M415.2,279.8V298M405.2,284.5V291.7M428,284.5V291.7M411.6,279.8H418.8M411.6,298H418.8"/>
<path d="M428,311.2H470M440.8,292V331.2M428,307.6V314.8M470,307.6V314.8M437.2,292H444.4M437.2,331.2H444.4"/>
</g>
<g fill="#ff0000">
<rect x="250.45" y="353.00" width="5.9" height="6.2"/>
<rect x="260.55" y="343.10" width="5.9" height="6.2"/>
<rect x="270.25" y="334.50" width="5.9" height="6.2"/>
<rect x="279.75" y="327.90" width="5.9" height="6.2"/>
<rect x="288.95" y="314.80" width="5.9" height="6.2"/>
<rect x="298.25" y="313.40" width="5.9" height="6.2"/>
<rect x="307.25" y="296.20" width="5.9" height="6.2"/>
<rect x="316.25" y="299.00" width="5.9" height="6.2"/>
<rect x="325.55" y="299.00" width="5.9" height="6.2"/>
<rect x="334.75" y="295.00" width="5.9" height="6.2"/>
<rect x="344.55" y="274.60" width="5.9" height="6.2"/>
<rect x="354.75" y="292.00" width="5.9" height="6.2"/>
<rect x="366.15" y="279.40" width="5.9" height="6.2"/>
<rect x="378.65" y="285.00" width="5.9" height="6.2"/>
<rect x="393.15" y="282.00" width="5.9" height="6.2"/>
<rect x="412.25" y="285.00" width="5.9" height="6.2"/>
<rect x="437.85" y="308.10" width="5.9" height="6.2"/>
</g>
<g stroke="#000" stroke-width="2.2" fill="none" stroke-linecap="butt">
<path d="M459,211.6H108.9V519.8H459" stroke-linejoin="miter"/>
<path d="M144.59,519.8v-5.0M144.59,211.6v5.0M165.55,519.8v-5.0M165.55,211.6v5.0M180.43,519.8v-5.0M180.43,211.6v5.0M191.96,519.8v-5.0M191.96,211.6v5.0M201.39,519.8v-5.0M201.39,211.6v5.0M209.36,519.8v-5.0M209.36,211.6v5.0M216.26,519.8v-5.0M216.26,211.6v5.0M222.35,519.8v-5.0M222.35,211.6v5.0M227.80,519.8v-8.2M227.80,211.6v8.2M263.64,519.8v-5.0M263.64,211.6v5.0M284.60,519.8v-5.0M284.60,211.6v5.0M299.48,519.8v-5.0M299.48,211.6v5.0M311.01,519.8v-5.0M311.01,211.6v5.0M320.44,519.8v-5.0M320.44,211.6v5.0M328.41,519.8v-5.0M328.41,211.6v5.0M335.31,519.8v-5.0M335.31,211.6v5.0M341.40,519.8v-5.0M341.40,211.6v5.0M346.85,519.8v-8.2M346.85,211.6v8.2M382.69,519.8v-5.0M382.69,211.6v5.0M403.65,519.8v-5.0M403.65,211.6v5.0M418.53,519.8v-5.0M418.53,211.6v5.0M430.06,519.8v-5.0M430.06,211.6v5.0M439.49,519.8v-5.0M439.49,211.6v5.0M447.46,519.8v-5.0M447.46,211.6v5.0M454.36,519.8v-5.0M454.36,211.6v5.0M108.9,489.15h5.0M108.9,471.15h5.0M108.9,458.32h5.0M108.9,448.37h5.0M108.9,440.23h5.0M108.9,433.36h5.0M108.9,427.40h5.0M108.9,422.15h5.0M108.9,417.45h8.2M108.9,386.53h5.0M108.9,368.45h5.0M108.9,355.62h5.0M108.9,345.67h5.0M108.9,337.53h5.0M108.9,330.66h5.0M108.9,324.70h5.0M108.9,319.45h5.0M108.9,314.75h8.2M108.9,283.83h5.0M108.9,265.75h5.0M108.9,252.92h5.0M108.9,242.89h5.0M108.9,234.68h5.0M108.9,227.75h5.0M108.9,221.74h5.0M108.9,216.44h5.0"/>
</g>
<g font-family="Liberation Sans, Arial, sans-serif" font-weight="bold" font-size="15.2" fill="#000" stroke="#000" stroke-width="0.3">
<text x="100.6" y="216.1" text-anchor="end">1E-3</text>
<text x="100.6" y="319.1" text-anchor="end">1E-4</text>
<text x="100.6" y="421.8" text-anchor="end">1E-5</text>
<text x="100.6" y="524.2" text-anchor="end">1E-6</text>
</g>
<g font-family="Liberation Sans, Arial, sans-serif" font-weight="bold" font-size="16" fill="#000" stroke="#000" stroke-width="0.3">
<text x="108.8" y="541.1" text-anchor="middle">0.1</text>
<text x="227.8" y="541.1" text-anchor="middle">1</text>
<text x="346.9" y="541.1" text-anchor="middle">10</text>
<text x="465.9" y="541.1" text-anchor="middle">100</text>
</g>
<text font-family="Liberation Sans, Arial, sans-serif" font-weight="bold" font-size="18" stroke="#000" stroke-width="0.3" x="272" y="561.3">E<tspan font-size="10.8" dy="7.6">kin</tspan><tspan dy="-7.6" dx="-0.4"> (GeV)</tspan></text>
<g transform="translate(62.7,390.0) rotate(-90)"><text font-family="Liberation Sans, Arial, sans-serif" font-weight="bold" font-size="18.5" stroke="#000" stroke-width="0.3" transform="scale(1.09,1)" x="0" y="0">p/p</text><rect x="0.2" y="-16.4" width="13.2" height="2.3" fill="#000"/></g>
<text font-family="Liberation Sans, Arial, sans-serif" font-size="21.6" stroke="#000" stroke-width="0.45" transform="translate(280.6,238.6) scale(0.965,1)">DR</text>
<path d="M389.40000000000003,407.5H421.20000000000005" stroke="#808080" stroke-width="3.6" stroke-linecap="round"/>
<text font-family="Liberation Sans, Arial, sans-serif" font-weight="bold" font-size="12.6" stroke="#000" stroke-width="0.25" transform="translate(425.8,412.3) scale(1.09,1)" xml:space="preserve">bg</text>
<path d="M388.40000000000003,424.8H422.6" stroke="#ff00ff" stroke-width="1.75" stroke-dasharray="3.3 1.65"/>
<text font-family="Liberation Sans, Arial, sans-serif" font-weight="bold" font-size="12.6" stroke="#000" stroke-width="0.25" transform="translate(425.8,429.6) scale(1.09,1)" xml:space="preserve">c 100</text>
<path d="M388.40000000000003,442.8H422.6" stroke="#0000ff" stroke-width="1.75" stroke-dasharray="3.3 1.65"/>
<text font-family="Liberation Sans, Arial, sans-serif" font-weight="bold" font-size="12.6" stroke="#000" stroke-width="0.25" transform="translate(425.8,447.6) scale(1.09,1)" xml:space="preserve">b 100</text>
<path d="M388.40000000000003,460.5H422.6" stroke="#ff00ff" stroke-width="1.55"/>
<text font-family="Liberation Sans, Arial, sans-serif" font-weight="bold" font-size="12.6" stroke="#000" stroke-width="0.25" transform="translate(425.8,465.3) scale(1.09,1)" xml:space="preserve">c 300</text>
<path d="M388.40000000000003,478.7H422.6" stroke="#0000ff" stroke-width="1.55"/>
<text font-family="Liberation Sans, Arial, sans-serif" font-weight="bold" font-size="12.6" stroke="#000" stroke-width="0.25" transform="translate(425.8,483.5) scale(1.09,1)" xml:space="preserve">b 300</text>
<path d="M388.40000000000003,496.4H422.6" stroke="#00ff00" stroke-width="1.55"/>
<text font-family="Liberation Sans, Arial, sans-serif" font-weight="bold" font-size="12.6" stroke="#000" stroke-width="0.25" transform="translate(425.8,501.2) scale(1.09,1)" xml:space="preserve">t  300</text>
</svg>
</body></html>
